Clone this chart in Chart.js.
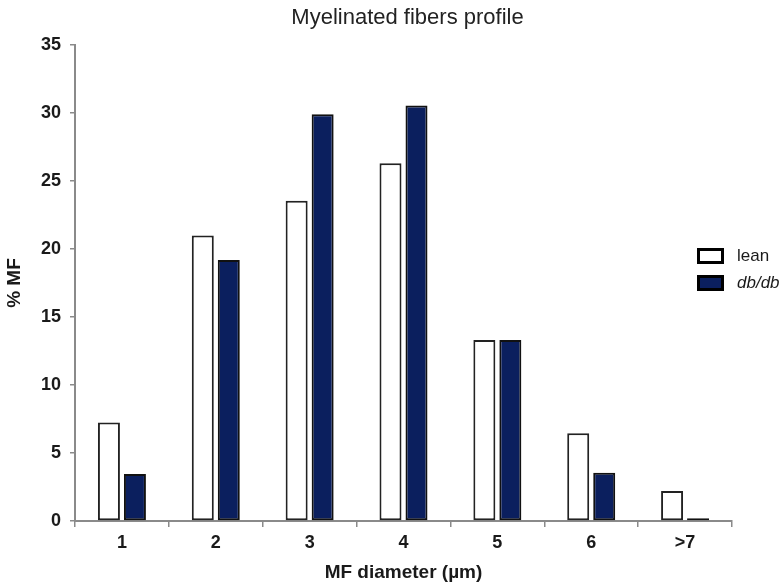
<!DOCTYPE html>
<html>
<head>
<meta charset="utf-8">
<script src="https://cdn.jsdelivr.net/npm/chart.js@4"></script>
<style>
  body { margin: 0; background: #fff; }
  canvas { display: block; }
</style>
</head>
<body>
<canvas id="fibersChart" width="784" height="584"></canvas>
<script>
const diameters = ["1", "2", "3", "4", "5", "6", ">7"];
const leanValues = [7.25, 21.0, 23.55, 26.3, 13.3, 6.45, 2.2];
const dbdbValues = [3.45, 19.2, 29.9, 30.55, 13.3, 3.55, 0.2];
const yTicks = [0, 5, 10, 15, 20, 25, 30, 35];

const FONT = "'Liberation Sans', Arial, sans-serif";
const AXIS_GREY = "#8a8a8a";
const TEXT = "#1a1a1a";

// legend drawn by hand so "db/db" can be italic
const sideLegend = {
  id: "sideLegend",
  afterLayout(chart) {
    // centre the title over the plot rather than the whole canvas
    chart.titleBlock.left = 83;
    chart.titleBlock.right = 732;
  },
  afterDraw(chart) {
    const ctx = chart.ctx;
    ctx.save();
    chart.data.datasets.forEach((ds, i) => {
      const y = 248 + i * 27;
      ctx.fillStyle = ds.backgroundColor;
      ctx.fillRect(697, y, 27, 16);
      ctx.lineWidth = 3;
      ctx.strokeStyle = "#000";
      ctx.strokeRect(698.5, y + 1.5, 24, 13);
      ctx.font = (ds.legendItalic ? "italic " : "") + "17px " + FONT;
      ctx.fillStyle = TEXT;
      ctx.textBaseline = "middle";
      ctx.fillText(ds.label, 737, y + 8);
    });
    ctx.restore();
  },
};

const tickFont = { family: FONT, size: 18, weight: "bold" };
const titleFont = { family: FONT, size: 19, weight: "bold" };

new Chart(document.getElementById("fibersChart").getContext("2d"), {
  type: "bar",
  data: {
    labels: diameters,
    datasets: [
      {
        label: "lean",
        data: leanValues,
        backgroundColor: "#ffffff",
        borderColor: "#222222",
        borderWidth: 2,
        borderSkipped: false,
      },
      {
        label: "db/db",
        data: dbdbValues,
        backgroundColor: "#0b1f5e",
        borderColor: "#111111",
        borderWidth: 2,
        borderSkipped: false,
        legendItalic: true,
      },
    ],
  },
  options: {
    responsive: false,
    animation: false,
    barPercentage: 0.846,
    categoryPercentage: 0.554,
    layout: { padding: { left: 0, right: 52, top: 0, bottom: 0 } },
    plugins: {
      legend: { display: false },
      tooltip: { enabled: false },
      title: {
        display: true,
        text: "Myelinated fibers profile",
        color: "#222",
        font: { family: FONT, size: 22, weight: "normal" },
        padding: { top: 5, bottom: 13.6 },
      },
    },
    scales: {
      x: {
        offset: true,
        afterFit: (s) => { s.height = 63; },
        border: { color: AXIS_GREY, width: 2 },
        grid: {
          offset: true,
          drawOnChartArea: false,
          tickLength: 6,
          color: AXIS_GREY,
          lineWidth: 1.5,
        },
        ticks: { font: tickFont, color: TEXT, padding: 5 },
        title: {
          display: true,
          text: "MF diameter (µm)",
          font: titleFont,
          color: TEXT,
          padding: { top: 0, bottom: 0 },
        },
      },
      y: {
        min: 0,
        max: 35,
        afterBuildTicks: (s) => { s.ticks = yTicks.map((v) => ({ value: v })); },
        afterFit: (s) => { s.width = 75; },
        border: { color: AXIS_GREY, width: 2 },
        grid: {
          drawOnChartArea: false,
          tickLength: 5,
          color: AXIS_GREY,
          lineWidth: 1.5,
        },
        ticks: { font: tickFont, color: TEXT, padding: 9 },
        title: {
          display: true,
          text: "% MF",
          font: titleFont,
          color: TEXT,
          padding: { top: 3.6, bottom: 0 },
        },
      },
    },
  },
  plugins: [sideLegend],
});
</script>
</body>
</html>
